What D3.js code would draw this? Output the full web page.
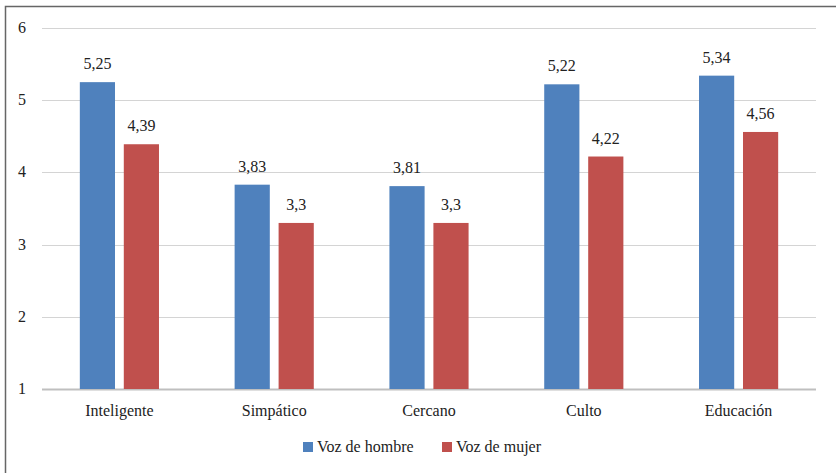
<!DOCTYPE html>
<html><head><meta charset="utf-8">
<script src="https://cdn.jsdelivr.net/npm/d3@7"></script>
<style>body{margin:0;background:#fff}svg{display:block}svg text{font-family:"Liberation Serif",Tinos,"Times New Roman",serif !important}</style>
</head><body>
<script>
const categories = ["Inteligente","Simpático","Cercano","Culto","Educación"];
const seriesNames = ["Voz de hombre","Voz de mujer"];
const hombre = [5.25,3.83,3.81,5.22,5.34];
const mujer = [4.39,3.3,3.3,4.22,4.56];
const yTicks = [1,2,3,4,5,6];
const colors = ["#4F81BD","#C0504D"];

const W=836,H=473;
const svg=d3.select("body").append("svg").attr("width",W).attr("height",H);
svg.append("path").attr("d","M5.5,473 V6.5 H836").attr("fill","none").attr("stroke","#666").attr("stroke-width",1.5);

const x=d3.scaleBand().domain(categories).range([42,816]);
const y=d3.scaleLinear().domain([1,6]).range([389,28]);
const xs=d3.scaleBand().domain(seriesNames).range([0,x.bandwidth()]).paddingInner(0.2).paddingOuter(0.86);

svg.append("g").selectAll("line").data(yTicks).join("line")
 .attr("x1",42).attr("x2",816).attr("y1",d=>Math.round(y(d))+0.5).attr("y2",d=>Math.round(y(d))+0.5)
 .attr("stroke",d=>d===1?"#bfbfbf":"#d4d4d4").attr("stroke-width",d=>d===1?2:1.2);

function txt(sel){return sel.attr("font-family","Liberation Serif").attr("fill","#222");}

txt(svg.append("g").selectAll("text").data(yTicks).join("text")
 .attr("x",22).attr("y",d=>y(d)+5).attr("text-anchor","middle").attr("font-size",16).text(d=>d));

const data=[hombre,mujer];
data.forEach((vals,si)=>{
  const g=svg.append("g");
  g.selectAll("rect").data(vals).join("rect")
   .attr("x",(d,i)=>x(categories[i])+xs(seriesNames[si]))
   .attr("width",xs.bandwidth())
   .attr("y",d=>y(d)).attr("height",d=>y(1)-y(d))
   .attr("fill",colors[si]);
  txt(g.selectAll("text").data(vals).join("text")
   .attr("x",(d,i)=>x(categories[i])+xs(seriesNames[si])+xs.bandwidth()/2)
   .attr("y",d=>y(d)-13).attr("text-anchor","middle").attr("font-size",16)
   .text(d=>String(d).replace(".",",")));
});

txt(svg.append("g").selectAll("text").data(categories).join("text")
 .attr("x",d=>x(d)+x.bandwidth()/2).attr("y",416).attr("text-anchor","middle").attr("font-size",16).text(d=>d));

const legX=[303,442];
seriesNames.forEach((n,i)=>{
  svg.append("rect").attr("x",legX[i]).attr("y",442).attr("width",10).attr("height",10).attr("fill",colors[i]);
  txt(svg.append("text").attr("x",legX[i]+14).attr("y",452).attr("font-size",16).text(n));
});
</script>
</body></html>
